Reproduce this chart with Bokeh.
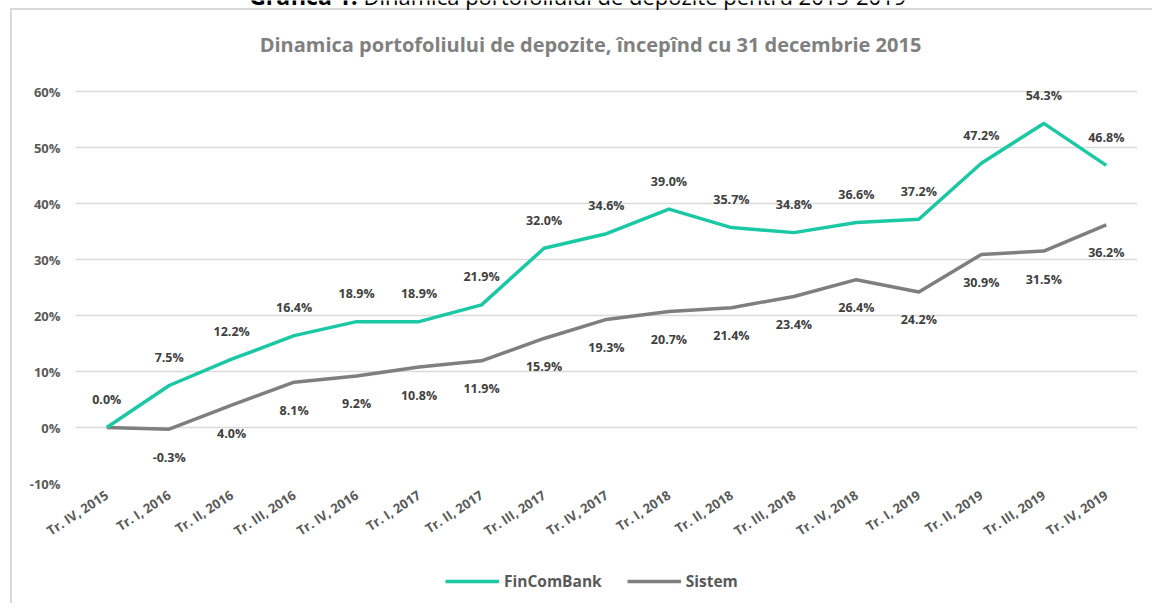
from bokeh.plotting import figure
from bokeh.layouts import column
from bokeh.models import (FactorRange, Range1d, FixedTicker, Legend, LegendItem,
                          Label, ColumnDataSource)
from bokeh.core.properties import value
from bokeh.embed import file_html
from bokeh.resources import INLINE

categories = ["Tr. IV, 2015", "Tr. I, 2016", "Tr. II, 2016", "Tr. III, 2016", "Tr. IV, 2016",
              "Tr. I, 2017", "Tr. II, 2017", "Tr. III, 2017", "Tr. IV, 2017",
              "Tr. I, 2018", "Tr. II, 2018", "Tr. III, 2018", "Tr. IV, 2018",
              "Tr. I, 2019", "Tr. II, 2019", "Tr. III, 2019", "Tr. IV, 2019"]
fincombank = [0.0, 7.5, 12.2, 16.4, 18.9, 18.9, 21.9, 32.0, 34.6, 39.0, 35.7, 34.8, 36.6, 37.2, 47.2, 54.3, 46.8]
sistem = [0.0, -0.3, 4.0, 8.1, 9.2, 10.8, 11.9, 15.9, 19.3, 20.7, 21.4, 23.4, 26.4, 24.2, 30.9, 31.5, 36.2]
y_ticks = [-10, 0, 10, 20, 30, 40, 50, 60]
series_names = ["FinComBank", "Sistem"]
chart_title = "Dinamica portofoliului de depozite, începînd cu 31 decembrie 2015"
page_title_bold = "Grafica 1."
page_title_rest = "Dinamica portofoliului de depozite pentru 2015-2019"

TEAL = "#1BC8A4"
GRAY = "#7F7F7F"
FONT = "Open Sans"
BORDER = "#D9D9D9"

W, H1, H2 = 1152, 550, 53
F_LEFT, F_RIGHT, F_BOTTOM = 75, 1137, 483
PX_PER_UNIT = 5.6
y_top = -10 + F_BOTTOM / PX_PER_UNIT

p = figure(x_range=FactorRange(*categories), y_range=Range1d(-10, y_top),
           width=W, height=H1, output_backend="svg", toolbar_location=None, title=None,
           min_border_left=F_LEFT, min_border_right=W - F_RIGHT,
           min_border_top=0, min_border_bottom=H1 - F_BOTTOM)
p.styles = {"background": (f"linear-gradient({BORDER}, {BORDER}) 10px 8px / 2px 100% no-repeat, "
                           f"linear-gradient({BORDER}, {BORDER}) 10px 8px / 100% 2px no-repeat, #FFFFFF")}
p.outline_line_color = None
p.background_fill_alpha = 0
p.border_fill_alpha = 0

# axes
p.yaxis.ticker = FixedTicker(ticks=y_ticks)
p.yaxis.major_label_overrides = {t: f"{t}%" for t in y_ticks}
for ax in (p.xaxis[0], p.yaxis[0]):
    ax.axis_line_color = None
    ax.major_tick_line_color = None
    ax.minor_tick_line_color = None
    ax.major_tick_out = 0
    ax.major_tick_in = 0
    ax.major_label_text_font = FONT
    ax.major_label_text_font_style = "bold"
    ax.major_label_text_color = "#595959"
    ax.major_label_text_font_size = "13px"
p.yaxis.major_label_standoff = 15
p.xaxis.major_label_orientation = 0.58
p.xaxis.major_label_standoff = 10
p.xgrid.grid_line_color = None
p.ygrid.ticker = FixedTicker(ticks=y_ticks)
p.ygrid.grid_line_color = BORDER
p.ygrid.grid_line_width = 1.5

src = ColumnDataSource(dict(x=categories, f=fincombank, s=sistem))
r_s = p.line("x", "s", source=src, line_color=GRAY, line_width=3.5, line_join="round")
r_f = p.line("x", "f", source=src, line_color=TEAL, line_width=3.5, line_join="round")

lab_kw = dict(text_font=value(FONT), text_font_style="bold", text_font_size="12.5px",
              text_color="#404040", text_align="center", text_baseline="middle")
p.text(x=categories, y=fincombank, text=[f"{v:.1f}%" for v in fincombank], y_offset=-28, **lab_kw)
p.text(x=categories[1:], y=sistem[1:], text=[f"{v:.1f}%" for v in sistem[1:]], y_offset=28, **lab_kw)

# chart title (inside the frame area, above the grid)
step = (F_RIGHT - F_LEFT) / len(categories)
p.add_layout(Label(x=(590 - F_LEFT) / step, y=-10 + (F_BOTTOM - 44) / PX_PER_UNIT, text=chart_title,
                   text_font=FONT, text_font_style="bold", text_font_size="20px",
                   text_color="#808080", text_align="center", text_baseline="middle"))
# page title (cut off at top of page, as in the source)
split_x = (357 - F_LEFT) / step
title_y = -10 + (F_BOTTOM + 5) / PX_PER_UNIT
p.add_layout(Label(x=split_x, y=title_y, text=page_title_bold, text_font=FONT,
                   text_font_style="bold", text_font_size="23px", text_color="#000000",
                   text_align="right", text_baseline="alphabetic"))
p.add_layout(Label(x=split_x, y=title_y, x_offset=6, text=page_title_rest, text_font=FONT,
                   text_font_size="22px", text_color="#000000",
                   text_align="left", text_baseline="alphabetic"))

# legend strip
q = figure(x_range=Range1d(0, W), y_range=Range1d(0, H2), width=W, height=H2,
           output_backend="svg", toolbar_location=None, title=None,
           x_axis_type=None, y_axis_type=None,
           min_border_left=0, min_border_right=0, min_border_top=0, min_border_bottom=0)
q.styles = {"background": f"linear-gradient({BORDER}, {BORDER}) 10px 0px / 2px 100% no-repeat, #FFFFFF"}
q.outline_line_color = None
q.background_fill_alpha = 0
q.border_fill_alpha = 0
q.xgrid.grid_line_color = None
q.ygrid.grid_line_color = None
# legend-only renderers, kept outside the visible range
l_f = q.line(x=[-20, -10], y=[-20, -20], line_color=TEAL, line_width=3.5)
l_s = q.line(x=[-20, -10], y=[-20, -20], line_color=GRAY, line_width=3.5)
legend = Legend(items=[LegendItem(label=series_names[0], renderers=[l_f]),
                       LegendItem(label=series_names[1], renderers=[l_s])],
                orientation="horizontal", location=(370, 11),
                padding=0, margin=0, spacing=25, label_standoff=5,
                glyph_width=54, glyph_height=16, label_height=16,
                border_line_color=None, background_fill_alpha=0,
                label_text_font=FONT, label_text_font_style="bold",
                label_text_font_size="15.5px", label_text_color="#595959")
q.add_layout(legend, "center")

layout = column(p, q, spacing=0)
open("out.html", "w").write(file_html(layout, INLINE))
